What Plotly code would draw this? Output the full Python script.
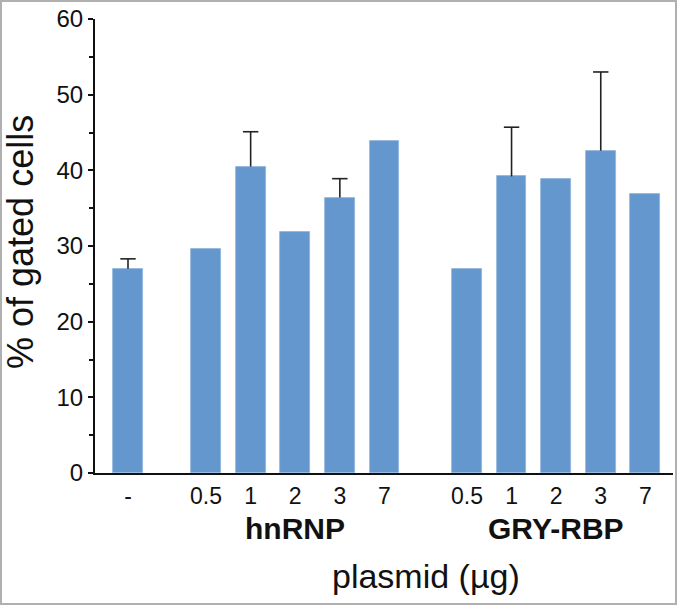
import plotly.graph_objects as go

labels = ["-", "0.5", "1", "2", "3", "7", "0.5", "1", "2", "3", "7"]
positions = [0, 1.75, 2.75, 3.75, 4.75, 5.75, 7.6, 8.6, 9.6, 10.6, 11.6]
values = [27.0, 29.6, 40.5, 31.9, 36.4, 43.9, 26.9, 39.2, 38.9, 42.6, 36.9]
errors = [1.3, None, 4.6, None, 2.5, None, None, 6.5, None, 10.4, None]
groups = ["hnRNP", "GRY-RBP"]
group_pos = [3.75, 9.6]

W, H = 679, 607
ml, mr, mt, mb = 95, 6, 19, 134
FONT = "Liberation Sans, Arial, sans-serif"
INK = "#111111"

fig = go.Figure()
fig.add_trace(go.Bar(x=positions, y=values, width=0.67,
                     marker=dict(color="#6497cd", line=dict(color="#8fb4dc", width=0.8)),
                     hoverinfo="skip"))

ex, ey, cx, cy = [], [], [], []
for p, v, e in zip(positions, values, errors):
    if e is None:
        continue
    ex += [p, p, None]
    ey += [v, v + e, None]
    cx.append(p)
    cy.append(v + e)
fig.add_trace(go.Scatter(x=ex, y=ey, mode="lines", line=dict(color="#222222", width=1.6),
                         hoverinfo="skip"))
fig.add_trace(go.Scatter(x=cx, y=cy, mode="markers",
                         marker=dict(symbol="line-ew-open", size=11, color="#222222",
                                     line=dict(color="#222222", width=1.6)),
                         hoverinfo="skip"))

pw = W - ml - mr
ph = H - mt - mb
for g, gp in zip(groups, group_pos):
    fig.add_annotation(x=gp, xref="x", y=-(528 - mt - ph) / ph, yref="paper",
                       text="<b>%s</b>" % g, showarrow=False,
                       font=dict(family=FONT, size=30, color=INK),
                       xanchor="center", yanchor="middle")

fig.add_annotation(x=(426 - ml) / pw, xref="paper", y=-(576 - mt - ph) / ph, yref="paper",
                   text="plasmid (µg)", showarrow=False,
                   font=dict(family=FONT, size=34, color=INK),
                   xanchor="center", yanchor="middle")

fig.add_annotation(x=-(ml - 21) / pw, xref="paper", y=1 - (242 - mt) / ph, yref="paper",
                   text="% of gated cells", showarrow=False, textangle=-90,
                   font=dict(family=FONT, size=36, color=INK),
                   xanchor="center", yanchor="middle")

# outer frame
fig.add_shape(type="rect", xref="paper", yref="paper",
              x0=-(ml - 1) / pw, x1=1 + (mr - 3) / pw,
              y0=-(mb - 3) / ph, y1=1 + (mt - 1) / ph,
              line=dict(color="#b0b0b0", width=2), layer="above")

fig.update_layout(
    width=W, height=H,
    margin=dict(l=ml, r=mr, t=mt, b=mb),
    paper_bgcolor="white", plot_bgcolor="white",
    showlegend=False, bargap=0,
    xaxis=dict(range=[-0.74, 12.22], tickmode="array", tickvals=positions, ticktext=labels,
               showgrid=False, zeroline=False, showline=True, linecolor=INK, linewidth=2,
               ticks="", tickfont=dict(family=FONT, size=23, color=INK),
               ticklabelstandoff=1, fixedrange=True),
    yaxis=dict(range=[0, 60], tickmode="linear", tick0=0, dtick=10,
               showgrid=False, zeroline=False, showline=True, linecolor=INK, linewidth=2,
               ticks="outside", ticklen=5, tickwidth=2, tickcolor=INK,
               tickfont=dict(family=FONT, size=24, color=INK),
               minor=dict(dtick=5, ticks="outside", ticklen=4, tickwidth=2, tickcolor=INK),
               fixedrange=True),
)

fig.write_html("out.html", config={"displayModeBar": False},
               post_script="document.body.style.margin='0';document.body.style.overflow='hidden';")
